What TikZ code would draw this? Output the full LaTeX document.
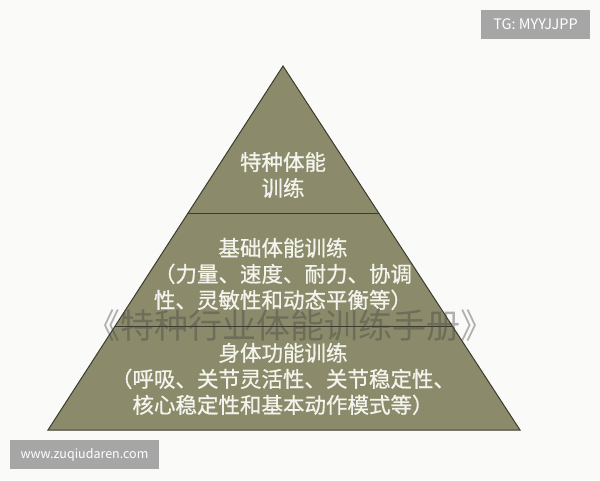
\documentclass[tikz,border=0pt]{standalone}
\usepackage{fontspec}
\setmainfont{Noto Sans CJK SC}
\newfontfamily\pyrfont{Noto Sans CJK SC}[FakeBold=0.7]
\usetikzlibrary{calc}
\definecolor{pyrfill}{HTML}{8B8B6B}
\definecolor{pyrline}{HTML}{3C3B2E}
\definecolor{pyrtext}{HTML}{F4F4EE}
\definecolor{tagray}{HTML}{A6A6A6}
\definecolor{bgwhite}{HTML}{FAFAF8}

\begin{document}
\begin{tikzpicture}[
		x=1pt,y=-1pt,
		every node/.style={text=pyrtext,align=center,font=\pyrfont\fontsize{21.5}{26}\selectfont},
		tag/.style={fill=tagray,text=white,minimum height=29pt,inner sep=0pt,font=\fontsize{14.5}{16}\selectfont},
		divider/.style={draw=pyrline,line width=1pt}
		]
		\useasboundingbox (0,0) rectangle (600,480);
		\fill[bgwhite] (0,0) rectangle (600,480);
		\coordinate (apex) at (283,66);
		\coordinate (bl) at (48,430);
		\coordinate (br) at (520,430);
		\filldraw[fill=pyrfill,divider] (apex) -- (bl) -- (br) -- cycle;
		\draw[divider] ($(apex)!0.404!(bl)$) -- ($(apex)!0.404!(br)$);
		\draw[divider] ($(apex)!0.717!(bl)$) -- ($(apex)!0.717!(br)$);
		
		\node (top) at (283,175) {特种体能\\训练};
		\node (mid) at (283,274) {基础体能训练\\（力量、速度、耐力、协调\\性、灵敏性和动态平衡等）};
		\node (base) at (283,379) {身体功能训练\\（呼吸、关节灵活性、关节稳定性、\\核心稳定性和基本动作模式等）};
		
		\node[text=black!75,opacity=0.4,font=\fontsize{34}{34}\selectfont] (wmark) at (290,326) {《特种行业体能训练手册》};
		
		\node[tag,minimum width=109pt] (tg) at (535.5,24.5) {TG: MYYJJPP};
		\node[tag,minimum width=149pt,font=\fontsize{12.5}{14}\selectfont] (site) at (84.5,454.5) {www.zuqiudaren.com};
\end{tikzpicture}
\end{document}
